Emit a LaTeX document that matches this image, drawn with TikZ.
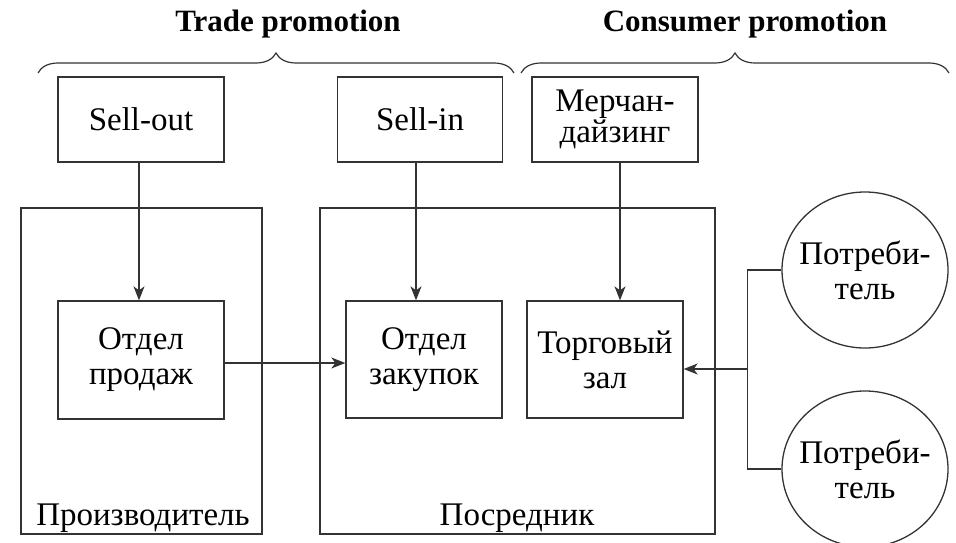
\documentclass[tikz,border=0pt]{standalone}
\usepackage{fontspec}
\setmainfont{Liberation Serif}
\usetikzlibrary{arrows.meta,decorations.pathreplacing,shapes.geometric}
\begin{document}
\begin{tikzpicture}[x=1pt,y=-1pt,
  ln/.style={draw=black!80, line width=1.3pt},
  txt/.style={font=\fontsize{33}{35}\selectfont},
  box/.style={ln, rectangle, inner sep=0pt, align=center, txt},
  oval/.style={ln, ellipse, inner sep=-25pt, align=center,
    minimum width=166pt, minimum height=156pt, txt},
  arr/.style={ln, -{Stealth[length=14pt,width=11pt,inset=4pt]}},
  lbl/.style={anchor=base, inner sep=0pt, txt},
  ttl/.style={inner sep=0pt, font=\fontsize{31}{34}\selectfont\bfseries},
  brc/.style={ln, line width=1.2pt, decorate,
    decoration={brace, amplitude=20pt, aspect=0.5}}]
\useasboundingbox (0,0) rectangle (956,543);
% titles and braces
\node[ttl] (t1) at (288,24) {Trade promotion};
\node[ttl] (t2) at (745,24) {Consumer promotion};
\coordinate (b1l) at (38,73);
\coordinate (b1r) at (514,73);
\coordinate (b2l) at (521,73);
\coordinate (b2r) at (949,73);
\draw[brc] (b1l) -- (b1r);
\draw[brc] (b2l) -- (b2r);
% outer boxes
\node[box, minimum width=241pt, minimum height=326pt] (prod) at (141.5,371) {};
\node[box, minimum width=395pt, minimum height=326pt] (posr) at (517.5,371) {};
\node[lbl] (prodl) at (143,525) {Производитель};
\node[lbl] (posrl) at (517,525) {Посредник};
% top boxes
\node[box, minimum width=166pt, minimum height=85pt] (sellout) at (141,119.5) {Sell-out};
\node[box, minimum width=165pt, minimum height=85pt] (sellin) at (420,119.5) {Sell-in};
\node[box, minimum width=166pt, minimum height=85pt,
  font=\fontsize{33}{31}\selectfont] (merch) at (615,119.5) {Мерчан-\\дайзинг};
% inner boxes
\node[box, minimum width=166pt, minimum height=118pt] (sales) at (141,360) {Отдел\\продаж};
\node[box, minimum width=156pt, minimum height=117pt] (purch) at (424,359.5) {Отдел\\закупок};
\node[box, minimum width=156pt, minimum height=117pt] (hall) at (605,359.5) {Торговый\\зал};
% consumers
\node[oval] (c1) at (865,270) {Потреби-\\тель};
\node[oval] (c2) at (865,469) {Потреби-\\тель};
% connectors
\coordinate (a1) at ([xshift=-2pt]sellout.south);
\draw[arr] (a1) -- (a1 |- sales.north);
\coordinate (a2) at ([xshift=-4pt]sellin.south);
\draw[arr] (a2) -- (a2 |- purch.north);
\coordinate (a3) at ([xshift=5pt]merch.south);
\draw[arr] (a3) -- (a3 |- hall.north);
\coordinate (a4) at ([yshift=-3pt]sales.east);
\draw[arr] (a4) -- (a4 -| purch.west);
\coordinate (j1) at ([xshift=-34pt]c1.west);
\draw[ln] (c1.west) -- (j1) |- (c2.west);
\coordinate (jm) at (j1 |- 0,369);
\draw[arr] (jm) -- (jm -| hall.east);
\end{tikzpicture}
\end{document}
